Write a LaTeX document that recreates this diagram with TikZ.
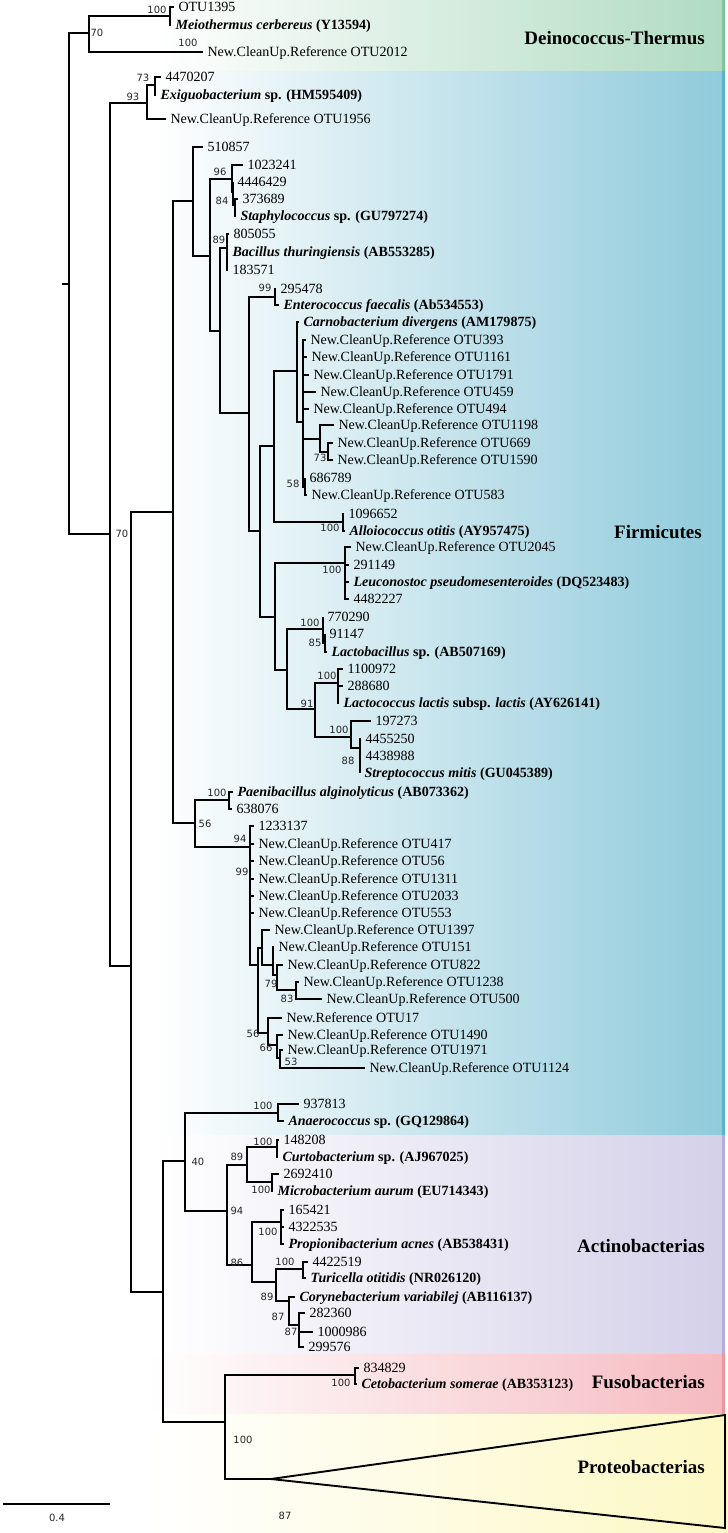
\documentclass[tikz,border=0pt]{standalone}
\usepackage{fontspec}
\setmainfont{Liberation Serif}
\newfontfamily\bsfont{DejaVu Sans}
\definecolor{dtgreen}{RGB}{176,219,194}
\definecolor{dtedge}{RGB}{128,196,156}
\definecolor{firmblue}{RGB}{143,202,219}
\definecolor{firmedge}{RGB}{88,180,204}
\definecolor{actlav}{RGB}{212,208,233}
\definecolor{actedge}{RGB}{180,172,218}
\definecolor{fusopink}{RGB}{245,186,192}
\definecolor{fusoedge}{RGB}{236,150,160}
\definecolor{protyel}{RGB}{253,248,196}
\newcommand{\bi}[1]{\textbf{\textit{#1}}}

\begin{document}
\begin{tikzpicture}[x=0.025cm,y=-0.025cm,
br/.style={line width=1.35pt},
leaf/.style={anchor=west,inner xsep=3pt,inner ysep=0pt,text height=7.3pt,text depth=0.5pt,font=\fontsize{10}{12}\selectfont},
bs/.style={inner sep=0pt,font=\bsfont\fontsize{7.1}{8}\selectfont,text=black!85},
clade/.style={anchor=east,inner sep=0pt,font=\fontsize{13.5}{16}\selectfont\bfseries}]
\useasboundingbox (0,0) rectangle (728,1533);
\fill[white] (0,0) rectangle (728,1533);
\shade[left color=white,right color=dtgreen] (155,0) rectangle (725,71);
\shade[left color=white,right color=firmblue] (155,71) rectangle (725,1135);
\shade[left color=white,right color=actlav] (155,1135) rectangle (725,1354);
\shade[left color=white,right color=fusopink] (148,1354) rectangle (725,1414);
\shade[left color=white,right color=protyel] (148,1414) rectangle (728,1533);
\fill[dtedge] (722,0) rectangle (725,71);
\fill[firmedge] (722,71) rectangle (725,1135);
\fill[actedge] (722,1135) rectangle (725,1354);
\fill[fusoedge] (722,1354) rectangle (725,1414);

\node[clade] (cDT) at (705,38) {Deinococcus-Thermus};
\node[clade] (cFirm) at (702,532) {Firmicutes};
\node[clade] (cAct) at (705,1246) {Actinobacterias};
\node[clade] (cFuso) at (705,1382) {Fusobacterias};
\node[clade] (cProt) at (705,1467) {Proteobacterias};

\coordinate (rootstub) at (62,284);
\coordinate (root) at (69,284);
\coordinate (nDT) at (89,33);
\coordinate (nMeio) at (170,16);
\coordinate (nA) at (110,534);
\coordinate (nExi) at (147,103);
\coordinate (nExi2) at (155,85);
\coordinate (nB) at (131,966);
\coordinate (nF1) at (173,512);
\coordinate (nF2) at (193,201);
\coordinate (nF3) at (210,256);
\coordinate (nStaph) at (232,179);
\coordinate (nStaph2) at (233,192);
\coordinate (nStaph3) at (235,205);
\coordinate (nF4) at (220,331);
\coordinate (nBac) at (227,248);
\coordinate (nF5) at (249,413);
\coordinate (nEnt) at (275,297);
\coordinate (nF6) at (260,531);
\coordinate (nF7) at (274,446);
\coordinate (nCarno) at (297,371);
\coordinate (nC1) at (303,422);
\coordinate (nC2) at (320,439);
\coordinate (nC3) at (328,452);
\coordinate (n58) at (305,487);
\coordinate (nAllo) at (343,522);
\coordinate (nF8) at (275,617);
\coordinate (nLeu) at (345,563);
\coordinate (nF9) at (287,670);
\coordinate (nLacb) at (323,629);
\coordinate (nLacb2) at (325,643);
\coordinate (nF10) at (315,709);
\coordinate (nLacc) at (338,683);
\coordinate (nStrep) at (351,737);
\coordinate (nStrep2) at (360,748);
\coordinate (nPae) at (195,823);
\coordinate (nPae2) at (229,800);
\coordinate (nP0) at (250,847);
\coordinate (nP1) at (258,965);
\coordinate (nP2) at (262,948);
\coordinate (nP3) at (273,965);
\coordinate (nP3b) at (277,975);
\coordinate (nP4) at (296,990);
\coordinate (nP5) at (268,1033);
\coordinate (nP6) at (277,1045);
\coordinate (nP7) at (280,1058);
\coordinate (nC) at (163,1292);
\coordinate (nD) at (185,1161);
\coordinate (nAna) at (278,1113);
\coordinate (nE) at (227,1211);
\coordinate (nF) at (247,1165);
\coordinate (nCurt) at (277,1147);
\coordinate (nMicro) at (272,1182);
\coordinate (nG) at (252,1265);
\coordinate (nProp) at (281,1222);
\coordinate (nH) at (276,1282);
\coordinate (nTur) at (303,1269);
\coordinate (nI) at (289,1301);
\coordinate (nJ) at (299,1325);
\coordinate (nFP) at (225,1422);
\coordinate (nCeto) at (355,1375);
\coordinate (tri) at (271,1479);
\coordinate (triTop) at (725,1415);
\coordinate (triBot) at (725,1528);
\coordinate (barL) at (3,1504);
\coordinate (barR) at (110,1504);

\node[leaf] (lOTU1395) at (174,7) {OTU1395};
\node[leaf] (lMeio) at (171,25) {\bi{Meiothermus cerbereus} \textbf{(Y13594)}};
\node[leaf] (lOTU2012) at (203,52) {New.CleanUp.Reference OTU2012};
\node[leaf] (l4470207) at (161,77) {4470207};
\node[leaf] (lExi) at (156,95) {\bi{Exiguobacterium} \textbf{sp. (HM595409)}};
\node[leaf] (lOTU1956) at (166,119) {New.CleanUp.Reference OTU1956};
\node[leaf] (l510857) at (203,147) {510857};
\node[leaf] (l1023241) at (243,165) {1023241};
\node[leaf] (l4446429) at (233,182) {4446429};
\node[leaf] (l373689) at (238,199) {373689};
\node[leaf] (lStaph) at (236,216) {\bi{Staphylococcus} \textbf{sp. (GU797274)}};
\node[leaf] (l805055) at (229,234) {805055};
\node[leaf] (lBac) at (228,252) {\bi{Bacillus thuringiensis} \textbf{(AB553285)}};
\node[leaf] (l183571) at (228,270) {183571};
\node[leaf] (l295478) at (276,289) {295478};
\node[leaf] (lEnt) at (279,305) {\bi{Enterococcus faecalis} \textbf{(Ab534553)}};
\node[leaf] (lCarno) at (299,322) {\bi{Carnobacterium divergens} \textbf{(AM179875)}};
\node[leaf] (lOTU393) at (306,340) {New.CleanUp.Reference OTU393};
\node[leaf] (lOTU1161) at (307,357) {New.CleanUp.Reference OTU1161};
\node[leaf] (lOTU1791) at (309,375) {New.CleanUp.Reference OTU1791};
\node[leaf] (lOTU459) at (316,392) {New.CleanUp.Reference OTU459};
\node[leaf] (lOTU494) at (309,409) {New.CleanUp.Reference OTU494};
\node[leaf] (lOTU1198) at (334,425) {New.CleanUp.Reference OTU1198};
\node[leaf] (lOTU669) at (333,443) {New.CleanUp.Reference OTU669};
\node[leaf] (lOTU1590) at (333,460) {New.CleanUp.Reference OTU1590};
\node[leaf] (l686789) at (305,478) {686789};
\node[leaf] (lOTU583) at (307,495) {New.CleanUp.Reference OTU583};
\node[leaf] (l1096652) at (344,514) {1096652};
\node[leaf] (lAllo) at (345,531) {\bi{Alloiococcus otitis} \textbf{(AY957475)}};
\node[leaf] (lOTU2045) at (351,547) {New.CleanUp.Reference OTU2045};
\node[leaf] (l291149) at (349,565) {291149};
\node[leaf] (lLeu) at (349,582) {\bi{Leuconostoc pseudomesenteroides} \textbf{(DQ523483)}};
\node[leaf] (l4482227) at (349,599) {4482227};
\node[leaf] (l770290) at (323,617) {770290};
\node[leaf] (l91147) at (325,634) {91147};
\node[leaf] (lLacb) at (327,652) {\bi{Lactobacillus} \textbf{sp. (AB507169)}};
\node[leaf] (l1100972) at (343,669) {1100972};
\node[leaf] (l288680) at (343,686) {288680};
\node[leaf] (lLacc) at (339,703) {\bi{Lactococcus lactis} \textbf{subsp.} \bi{lactis} \textbf{(AY626141)}};
\node[leaf] (l197273) at (371,721) {197273};
\node[leaf] (l4455250) at (361,739) {4455250};
\node[leaf] (l4438988) at (361,756) {4438988};
\node[leaf] (lStrep) at (360,773) {\bi{Streptococcus mitis} \textbf{(GU045389)}};
\node[leaf] (lPae) at (233,792) {\bi{Paenibacillus alginolyticus} \textbf{(AB073362)}};
\node[leaf] (l638076) at (232,809) {638076};
\node[leaf] (l1233137) at (254,826) {1233137};
\node[leaf] (lOTU417) at (254,844) {New.CleanUp.Reference OTU417};
\node[leaf] (lOTU56) at (254,861) {New.CleanUp.Reference OTU56};
\node[leaf] (lOTU1311) at (254,879) {New.CleanUp.Reference OTU1311};
\node[leaf] (lOTU2033) at (254,896) {New.CleanUp.Reference OTU2033};
\node[leaf] (lOTU553) at (254,913) {New.CleanUp.Reference OTU553};
\node[leaf] (lOTU1397) at (270,930) {New.CleanUp.Reference OTU1397};
\node[leaf] (lOTU151) at (274,947) {New.CleanUp.Reference OTU151};
\node[leaf] (lOTU822) at (283,965) {New.CleanUp.Reference OTU822};
\node[leaf] (lOTU1238) at (299,982) {New.CleanUp.Reference OTU1238};
\node[leaf] (lOTU500) at (322,999) {New.CleanUp.Reference OTU500};
\node[leaf] (lOTU17) at (282,1018) {New.Reference OTU17};
\node[leaf] (lOTU1490) at (283,1035) {New.CleanUp.Reference OTU1490};
\node[leaf] (lOTU1971) at (283,1050) {New.CleanUp.Reference OTU1971};
\node[leaf] (lOTU1124) at (365,1068) {New.CleanUp.Reference OTU1124};
\node[leaf] (l937813) at (299,1104) {937813};
\node[leaf] (lAna) at (284,1121) {\bi{Anaerococcus} \textbf{sp. (GQ129864)}};
\node[leaf] (l148208) at (279,1140) {148208};
\node[leaf] (lCurt) at (278,1157) {\bi{Curtobacterium} \textbf{sp. (AJ967025)}};
\node[leaf] (l2692410) at (279,1174) {2692410};
\node[leaf] (lMicro) at (273,1191) {\bi{Microbacterium aurum} \textbf{(EU714343)}};
\node[leaf] (l165421) at (284,1210) {165421};
\node[leaf] (l4322535) at (284,1227) {4322535};
\node[leaf] (lProp) at (284,1244) {\bi{Propionibacterium acnes} \textbf{(AB538431)}};
\node[leaf] (l4422519) at (308,1262) {4422519};
\node[leaf] (lTur) at (306,1278) {\bi{Turicella otitidis} \textbf{(NR026120)}};
\node[leaf] (lCory) at (295,1297) {\bi{Corynebacterium variabilej} \textbf{(AB116137)}};
\node[leaf] (l282360) at (305,1313) {282360};
\node[leaf] (l1000986) at (313,1332) {1000986};
\node[leaf] (l299576) at (304,1347) {299576};
\node[leaf] (l834829) at (359,1368) {834829};
\node[leaf] (lCeto) at (357,1384) {\bi{Cetobacterium somerae} \textbf{(AB353123)}};

\draw[br] (rootstub) -- (root);
\draw[br] (root) |- (nDT) (root) |- (nA);
\draw[br] (nDT) |- (nMeio) (nDT) |- (lOTU2012);
\draw[br] (nMeio) |- (lOTU1395) (nMeio) |- (lMeio);
\draw[br] (nA) |- (nExi) (nA) |- (nB);
\draw[br] (nExi) |- (nExi2) (nExi) |- (lOTU1956);
\draw[br] (nExi2) |- (l4470207) (nExi2) |- (lExi);
\draw[br] (nB) |- (nF1) (nB) |- (nC);
\draw[br] (nF1) |- (nF2) (nF1) |- (nPae);
\draw[br] (nF2) |- (l510857) (nF2) |- (nF3);
\draw[br] (nF3) |- (nStaph) (nF3) |- (nF4);
\draw[br] (nStaph) |- (l1023241) (nStaph) |- (nStaph2);
\draw[br] (nStaph2) |- (l4446429) (nStaph2) |- (nStaph3);
\draw[br] (nStaph3) |- (l373689) (nStaph3) |- (lStaph);
\draw[br] (nF4) |- (nBac) (nF4) |- (nF5);
\draw[br] (nBac) |- (l805055) (nBac) |- (lBac) (nBac) |- (l183571);
\draw[br] (nF5) |- (nEnt) (nF5) |- (nF6);
\draw[br] (nEnt) |- (l295478) (nEnt) |- (lEnt);
\draw[br] (nF6) |- (nF7) (nF6) |- (nF8);
\draw[br] (nF7) |- (nCarno) (nF7) |- (nAllo);
\draw[br] (nCarno) |- (lCarno) (nCarno) |- (nC1);
\draw[br] (nC1) |- (lOTU393) (nC1) |- (lOTU1161) (nC1) |- (lOTU1791) (nC1) |- (lOTU459) (nC1) |- (lOTU494) (nC1) |- (nC2) (nC1) |- (n58);
\draw[br] (nC2) |- (lOTU1198) (nC2) |- (nC3);
\draw[br] (nC3) |- (lOTU669) (nC3) |- (lOTU1590);
\draw[br] (n58) |- (l686789) (n58) |- (lOTU583);
\draw[br] (nAllo) |- (l1096652) (nAllo) |- (lAllo);
\draw[br] (nF8) |- (nLeu) (nF8) |- (nF9);
\draw[br] (nLeu) |- (lOTU2045) (nLeu) |- (l291149) (nLeu) |- (lLeu) (nLeu) |- (l4482227);
\draw[br] (nF9) |- (nLacb) (nF9) |- (nF10);
\draw[br] (nLacb) |- (l770290) (nLacb) |- (nLacb2);
\draw[br] (nLacb2) |- (l91147) (nLacb2) |- (lLacb);
\draw[br] (nF10) |- (nLacc) (nF10) |- (nStrep);
\draw[br] (nLacc) |- (l1100972) (nLacc) |- (l288680) (nLacc) |- (lLacc);
\draw[br] (nStrep) |- (l197273) (nStrep) |- (nStrep2);
\draw[br] (nStrep2) |- (l4455250) (nStrep2) |- (l4438988) (nStrep2) |- (lStrep);
\draw[br] (nPae) |- (nPae2) (nPae) |- (nP0);
\draw[br] (nPae2) |- (lPae) (nPae2) |- (l638076);
\draw[br] (nP0) |- (l1233137) (nP0) |- (lOTU417) (nP0) |- (lOTU56) (nP0) |- (lOTU1311) (nP0) |- (lOTU2033) (nP0) |- (lOTU553) (nP0) |- (nP1);
\draw[br] (nP1) |- (nP2) (nP1) |- (nP5);
\draw[br] (nP2) |- (lOTU1397) (nP2) |- (nP3);
\draw[br] (nP3) |- (lOTU151) (nP3) |- (nP3b);
\draw[br] (nP3b) |- (lOTU822) (nP3b) |- (nP4);
\draw[br] (nP4) |- (lOTU1238) (nP4) |- (lOTU500);
\draw[br] (nP5) |- (lOTU17) (nP5) |- (nP6);
\draw[br] (nP6) |- (lOTU1490) (nP6) |- (nP7);
\draw[br] (nP7) |- (lOTU1971) (nP7) |- (lOTU1124);
\draw[br] (nC) |- (nD) (nC) |- (nFP);
\draw[br] (nD) |- (nAna) (nD) |- (nE);
\draw[br] (nAna) |- (l937813) (nAna) |- (lAna);
\draw[br] (nE) |- (nF) (nE) |- (nG);
\draw[br] (nF) |- (nCurt) (nF) |- (nMicro);
\draw[br] (nCurt) |- (l148208) (nCurt) |- (lCurt);
\draw[br] (nMicro) |- (l2692410) (nMicro) |- (lMicro);
\draw[br] (nG) |- (nProp) (nG) |- (nH);
\draw[br] (nProp) |- (l165421) (nProp) |- (l4322535) (nProp) |- (lProp);
\draw[br] (nH) |- (nTur) (nH) |- (nI);
\draw[br] (nTur) |- (l4422519) (nTur) |- (lTur);
\draw[br] (nI) |- (lCory) (nI) |- (nJ);
\draw[br] (nJ) |- (l282360) (nJ) |- (l1000986) (nJ) |- (l299576);
\draw[br] (nFP) |- (nCeto) (nFP) |- (tri);
\draw[br] (nCeto) |- (l834829) (nCeto) |- (lCeto);
\draw[br] (tri) -- (triTop) -- (triBot) -- cycle;
\draw[line width=1.1pt] (barL) -- (barR);

\node[bs] (b1) at (157,10) {100};
\node[bs] (b2) at (97,33) {70};
\node[bs] (b3) at (188,43) {100};
\node[bs] (b4) at (143,78) {73};
\node[bs] (b5) at (133,97) {93};
\node[bs] (b6) at (122,534) {70};
\node[bs] (b7) at (220,172) {96};
\node[bs] (b8) at (222,201) {84};
\node[bs] (b9) at (219,240) {89};
\node[bs] (b10) at (265,288) {99};
\node[bs] (b11) at (320,458) {73};
\node[bs] (b12) at (293,484) {58};
\node[bs] (b13) at (330,528) {100};
\node[bs] (b14) at (332,570) {100};
\node[bs] (b15) at (310,623) {100};
\node[bs] (b16) at (315,643) {85};
\node[bs] (b17) at (327,676) {100};
\node[bs] (b18) at (307,704) {91};
\node[bs] (b19) at (339,730) {100};
\node[bs] (b20) at (348,761) {88};
\node[bs] (b21) at (217,793) {100};
\node[bs] (b22) at (205,824) {56};
\node[bs] (b23) at (240,839) {94};
\node[bs] (b24) at (242,872) {99};
\node[bs] (b25) at (271,984) {79};
\node[bs] (b26) at (287,999) {83};
\node[bs] (b27) at (253,1034) {56};
\node[bs] (b28) at (266,1048) {66};
\node[bs] (b29) at (291,1062) {53};
\node[bs] (b30) at (263,1106) {100};
\node[bs] (b31) at (198,1162) {40};
\node[bs] (b32) at (237,1157) {89};
\node[bs] (b33) at (263,1142) {100};
\node[bs] (b34) at (261,1190) {100};
\node[bs] (b35) at (237,1211) {94};
\node[bs] (b36) at (268,1232) {100};
\node[bs] (b37) at (237,1263) {86};
\node[bs] (b38) at (285,1262) {100};
\node[bs] (b39) at (267,1297) {89};
\node[bs] (b40) at (278,1317) {87};
\node[bs] (b41) at (291,1332) {87};
\node[bs] (b42) at (341,1383) {100};
\node[bs] (b43) at (243,1440) {100};
\node[bs] (b44) at (285,1516) {87};
\node[bs] (bar) at (57,1518) {0.4};
\end{tikzpicture}
\end{document}
